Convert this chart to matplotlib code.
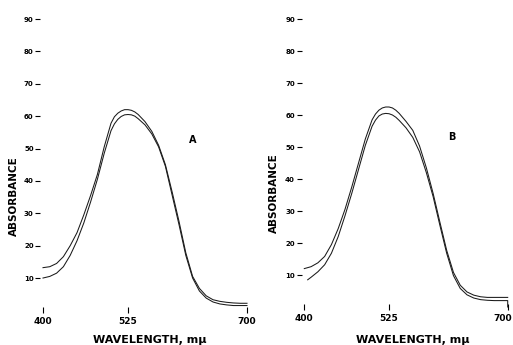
import matplotlib
matplotlib.use("Agg")
import matplotlib.pyplot as plt
import matplotlib.transforms as mtransforms

# ---- data ----
wl = [400, 410, 420, 430, 440, 450, 460, 470, 480, 490, 500, 505, 510, 515,
      520, 525, 530, 535, 540, 550, 560, 570, 580, 590, 600, 610, 620, 630,
      640, 650, 660, 670, 680, 690, 700]

a_upper = [13.2, 13.5, 14.5, 16.6, 20.0, 24.0, 29.5, 35.5, 42.0, 50.5, 57.8,
           59.8, 60.9, 61.6, 62.0, 62.0, 61.8, 61.3, 60.5, 58.3, 55.3, 51.0,
           45.0, 36.5, 27.5, 17.8, 10.5, 6.8, 4.5, 3.3, 2.8, 2.5, 2.3, 2.2, 2.2]
a_lower = [10.0, 10.5, 11.5, 13.5, 17.0, 21.5, 27.0, 33.5, 40.5, 48.5, 55.5,
           57.6, 59.0, 59.9, 60.4, 60.5, 60.4, 60.0, 59.2, 57.3, 54.5, 50.5,
           44.5, 35.5, 26.5, 17.0, 10.0, 6.0, 3.8, 2.6, 2.0, 1.7, 1.5, 1.5, 1.5]

b_upper = [12.0, 12.6, 13.8, 15.8, 19.5, 24.5, 30.5, 37.5, 45.0, 52.5, 58.5,
           60.3, 61.5, 62.2, 62.5, 62.5, 62.2, 61.5, 60.5, 58.0, 55.2, 50.3,
           43.5, 35.5, 26.5, 17.7, 10.8, 6.8, 4.7, 3.7, 3.2, 3.0, 3.0, 3.0, 3.0]
b_lower_wl = [405, 410, 420, 430, 440, 450, 460, 470, 480, 490, 500, 505, 510,
              515, 520, 525, 530, 535, 540, 550, 560, 570, 580, 590, 600, 610,
              620, 630, 640, 650, 660, 670, 680, 690, 700, 700]
b_lower = [8.5, 9.3, 11.0, 13.2, 16.8, 22.0, 28.5, 35.5, 43.0, 50.5, 56.5,
           58.4, 59.7, 60.3, 60.5, 60.4, 60.0, 59.3, 58.3, 56.0, 53.0, 48.5,
           42.0, 34.5, 25.5, 16.8, 9.8, 5.8, 3.8, 2.8, 2.3, 2.1, 2.0, 2.0, 2.0,
           0.0]

x_ticks = [400, 525, 700]
y_ticks = [10, 20, 30, 40, 50, 60, 70, 80, 90]
panel_labels = ["A", "B"]
ylabel = "ABSORBANCE"
xlabel = "WAVELENGTH, m\u03bc"

W, H = 513, 345
fig = plt.figure(figsize=(W / 100, H / 100), dpi=100)
fig.patch.set_facecolor("white")

# axes rectangles in pixels: (x_left, x_right, y_bottom(px from top), y_top)
rects = [(43, 247, 310.4, 19.0), (304.3, 507.7, 307.0, 19.0)]
series = [((wl, a_upper), (wl, a_lower)), ((wl, b_upper), (b_lower_wl, b_lower))]
label_pos = [(620, 52.6), (618, 53.0)]

for i, (x0, x1, yb, yt) in enumerate(rects):
    ax = fig.add_axes([x0 / W, (H - yb) / H, (x1 - x0) / W, (yb - yt) / H])
    ax.set_xlim(400, 700)
    ax.set_ylim(0, 90)
    for s in ax.spines.values():
        s.set_color("none")
    ax.spines["left"].set_position(("outward", 2))
    for (xs, ys) in series[i]:
        ax.plot(xs, ys, color="#1a1a1a", lw=0.75, clip_on=False)
    ax.set_xticks(x_ticks)
    ax.set_xticklabels([str(v) for v in x_ticks], fontweight="bold")
    ax.set_yticks(y_ticks)
    ax.set_yticklabels([str(v) for v in y_ticks], fontweight="bold")
    ax.tick_params(axis="x", direction="inout", length=4, width=0.8,
                   labelsize=6.5, pad=3, colors="black")
    ax.tick_params(axis="y", direction="out", length=3.5, width=0.8,
                   labelsize=5, pad=1.2, colors="black")
    ax.text(label_pos[i][0], label_pos[i][1], panel_labels[i],
            fontsize=7, fontweight="bold", ha="center", va="center")
    ax.patch.set_alpha(0)
    if i == 1:
        # keep the last tick label inside the figure edge
        lab = ax.get_xticklabels()[-1]
        lab.set_transform(lab.get_transform() +
                          mtransforms.ScaledTranslation(-5 / 100, 0, fig.dpi_scale_trans))

# axis titles
fig.text(14 / W, 1 - 196 / H, ylabel, rotation=90, fontsize=7.5,
         fontweight="bold", ha="center", va="center")
fig.text(274 / W, 1 - 193 / H, ylabel, rotation=90, fontsize=7.5,
         fontweight="bold", ha="center", va="center")
fig.text(150 / W, 1 - 340 / H, xlabel, fontsize=8, fontweight="bold",
         ha="center", va="center")
fig.text(413 / W, 1 - 340 / H, xlabel, fontsize=8, fontweight="bold",
         ha="center", va="center")

fig.savefig("out.png", dpi=100)
